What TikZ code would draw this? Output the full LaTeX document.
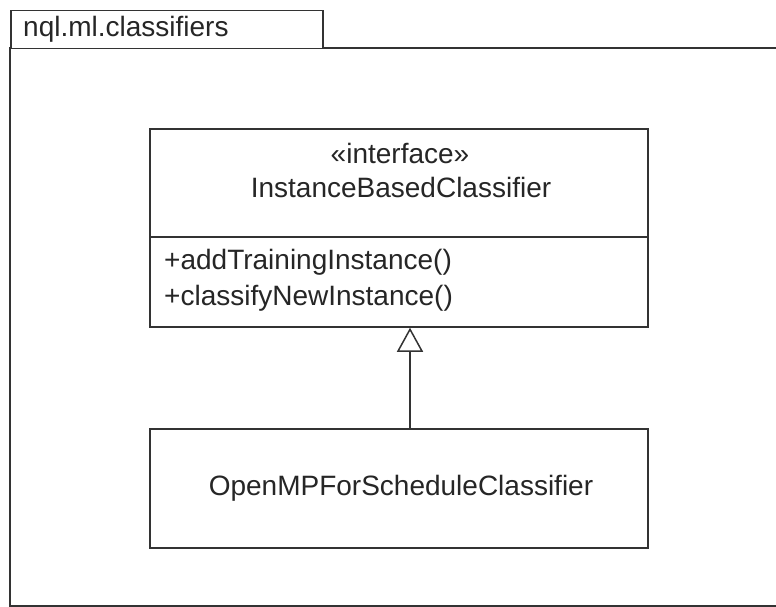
\documentclass[tikz,border=0pt]{standalone}
\usepackage{fontspec}
\setmainfont{Liberation Sans}
\usetikzlibrary{arrows.meta}
\definecolor{umlline}{HTML}{333333}
\definecolor{umltext}{HTML}{262626}
\tikzset{
  umlbox/.style={draw=umlline, line width=1.5pt, fill=white, inner sep=0pt},
  umltxt/.style={text=umltext, inner sep=0pt, font=\fontsize{28}{34}\selectfont},
}
\begin{document}
\begin{tikzpicture}[x=1pt,y=-1pt,>={Triangle[open,length=24pt,width=26pt,fill=white]}]
\useasboundingbox (0,0) rectangle (776,607);
% package frame
\draw[umlline, line width=1.5pt](10,48) rectangle (800,606);
\node[umlbox, anchor=north west, minimum width=312pt, minimum height=38pt] (tab) at (10,10) {};
\node[umltxt, anchor=west] (pkgname) at (23,29) {nql.ml.classifiers};

% interface
\node[umlbox, minimum width=498pt, minimum height=198pt] (iface) at (399,228) {};
\draw[umlline, line width=1.5pt](150,237)--(648,237);
\node[umltxt] (stereo) at (400,153) {«interface»};
\node[umltxt] (ifname) at (401,187) {InstanceBasedClassifier};
\node[umltxt, anchor=west] (op1) at (164,262) {+addTrainingInstance()};
\node[umltxt, anchor=west] (op2) at (164,298) {+classifyNewInstance()};

% implementing class
\node[umlbox, minimum width=498pt, minimum height=119pt] (impl) at (399,488.5) {};
\node[umltxt] (implname) at (401,488) {OpenMPForScheduleClassifier};

\coordinate (gen) at (410,400);
\draw[->, umlline, line width=1.5pt](impl.north -| gen)--(iface.south -| gen);
\end{tikzpicture}
\end{document}
